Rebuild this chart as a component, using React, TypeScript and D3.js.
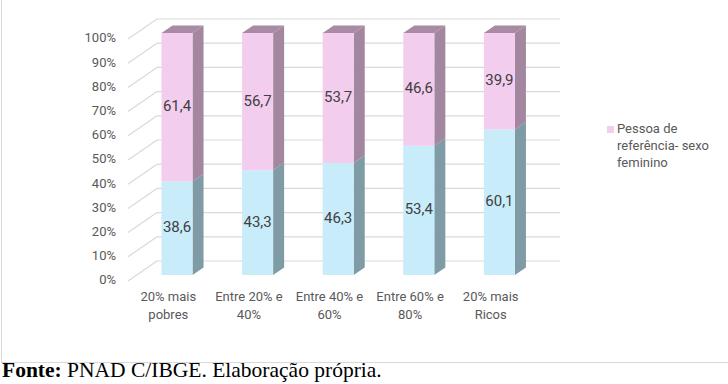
import React from 'react';
import * as d3 from 'd3';

const categories = ['20% mais pobres', 'Entre 20% e 40%', 'Entre 40% e 60%', 'Entre 60% e 80%', '20% mais Ricos'];
const categoryLines = [
  ['20% mais', 'pobres'],
  ['Entre 20% e', '40%'],
  ['Entre 40% e', '60%'],
  ['Entre 60% e', '80%'],
  ['20% mais', 'Ricos'],
];
const masculino = [38.6, 43.3, 46.3, 53.4, 60.1];
const feminino = [61.4, 56.7, 53.7, 46.6, 39.9];
const yTicks = [0, 10, 20, 30, 40, 50, 60, 70, 80, 90, 100];
const legendLines = ['Pessoa de', 'referência- sexo', 'feminino'];

const W = 728;
const H = 384;
const DX = 29; // full depth offset
const DY = -20;
const FONT = 'Roboto, "Open Sans", sans-serif';

const App: React.FC = () => {
  const x = d3.scaleBand<string>().domain(categories).range([128, 531]).padding(0);
  const y = d3.scaleLinear().domain([0, 100]).range([281, 39]);
  const barW = x.bandwidth() * 0.385;
  const d0 = 0.3;
  const d1 = 0.68;

  const pt = (px: number, v: number, d: number): [number, number] => [px + d * DX, y(v) + d * DY];
  const poly = (pts: [number, number][]) => pts.map(p => p.join(',')).join(' ');

  const bars = categories.map((c, i) => {
    const cx = (x(c) as number) + x.bandwidth() / 2;
    const xl = cx - barW / 2;
    const xr = cx + barW / 2;
    const segs = [
      { lo: 0, hi: masculino[i], front: '#c8ecfa', side: '#7f9ba6', top: '#a6c4d0', label: masculino[i] },
      { lo: masculino[i], hi: masculino[i] + feminino[i], front: '#f2cdee', side: '#a3869f', top: '#a88aa3', label: feminino[i] },
    ];
    return { cx, xl, xr, segs, i };
  });

  return (
    <svg width={W} height={H} style={{ position: 'absolute', left: 0, top: 0, background: '#fff' }}>
      {/* chart frame (left and bottom edges only visible) */}
      <line x1={1.5} y1={0} x2={1.5} y2={362} stroke="#d9d9d9" />
      <line x1={1} y1={362.5} x2={728} y2={362.5} stroke="#d9d9d9" />

      {/* gridlines: side wall + back wall */}
      {yTicks.map(t => {
        const [fx, fy] = pt(128, t, 0);
        const [bx, by] = pt(128, t, 1);
        return (
          <g key={t}>
            <line x1={fx} y1={fy} x2={bx} y2={by} stroke="#d9d9d9" strokeWidth={1.2} />
            <line x1={bx} y1={by} x2={560} y2={by} stroke="#d9d9d9" strokeWidth={1.2} />
          </g>
        );
      })}

      {/* y axis labels */}
      {yTicks.map(t => (
        <text key={t} x={116} y={y(t)} textAnchor="end" dominantBaseline="middle"
          fontFamily={FONT} fontSize={13} fill="#595959">{t}%</text>
      ))}

      {/* 3D stacked bars */}
      {bars.map(b => (
        <g key={b.i}>
          {b.segs.map((s, k) => {
            const fl = pt(b.xl, s.lo, d0), fr = pt(b.xr, s.lo, d0);
            const tl = pt(b.xl, s.hi, d0), tr = pt(b.xr, s.hi, d0);
            const br = pt(b.xr, s.lo, d1), btr = pt(b.xr, s.hi, d1), btl = pt(b.xl, s.hi, d1);
            return (
              <g key={k}>
                <polygon points={poly([fr, br, btr, tr])} fill={s.side} />
                <polygon points={poly([fl, fr, tr, tl])} fill={s.front} />
                {k === 1 && <polygon points={poly([tl, tr, btr, btl])} fill={s.top} />}
              </g>
            );
          })}
        </g>
      ))}

      {/* value labels */}
      {bars.map(b => b.segs.map((s, k) => {
        const [lx, ly] = pt(b.cx, (s.lo + s.hi) / 2, d0);
        return (
          <text key={`${b.i}-${k}`} x={lx} y={ly} textAnchor="middle" dominantBaseline="middle"
            fontFamily={FONT} fontSize={15} fill="#404040">{s.label.toFixed(1).replace('.', ',')}</text>
        );
      }))}

      {/* category labels */}
      {categories.map((c, i) => (
        <text key={c} x={(x(c) as number) + x.bandwidth() / 2} y={298} textAnchor="middle"
          fontFamily={FONT} fontSize={13} fill="#595959">
          {categoryLines[i].map((l, j) => (
            <tspan key={j} x={(x(c) as number) + x.bandwidth() / 2} y={298 + j * 18} dominantBaseline="middle">{l}</tspan>
          ))}
        </text>
      ))}

      {/* legend */}
      <rect x={607} y={126} width={7} height={7} fill="#f2cdee" />
      {legendLines.map((l, j) => (
        <text key={j} x={617} y={130 + j * 17} dominantBaseline="middle"
          fontFamily={FONT} fontSize={13} fill="#595959">{l}</text>
      ))}

      {/* source */}
      <text x={2} y={377} fontFamily='"Liberation Serif", "Times New Roman", serif' fontSize={21.5} fill="#000">
        <tspan fontWeight="bold">Fonte:</tspan> PNAD C/IBGE. Elaboração própria.
      </text>
    </svg>
  );
};

export default App;
